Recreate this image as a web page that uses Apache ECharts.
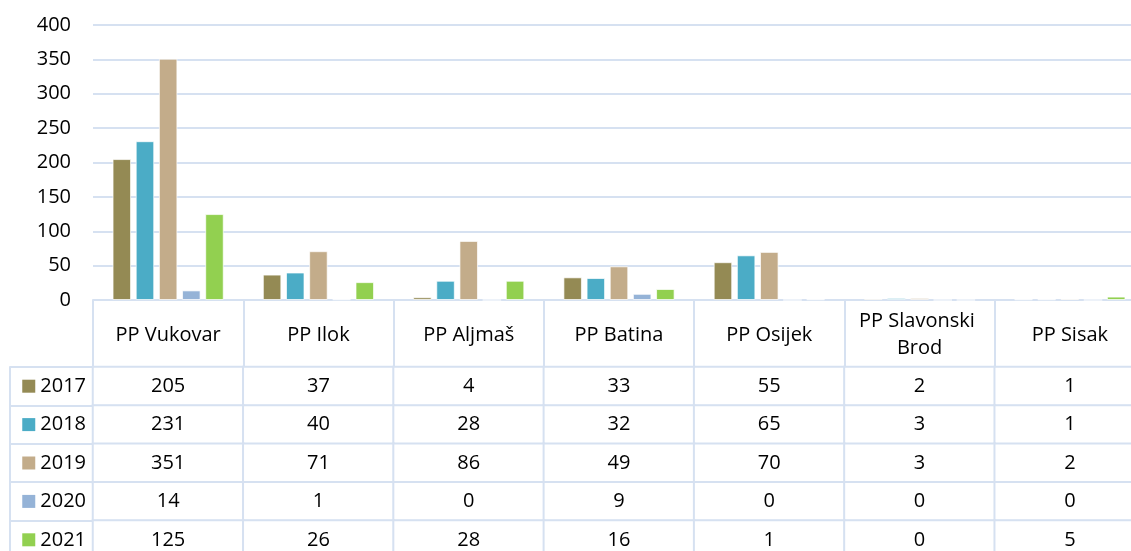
<!DOCTYPE html>
<html>
<head>
<meta charset="utf-8">
<script src="https://cdn.jsdelivr.net/npm/echarts@6/dist/echarts.min.js"></script>
<style>
  html, body { margin: 0; padding: 0; background: #fff; }
  #chart { width: 1131px; height: 551px; }
</style>
</head>
<body>
<div id="chart"></div>
<script>
// ---- data ----
const categories = ['PP Vukovar', 'PP Ilok', 'PP Aljmaš', 'PP Batina', 'PP Osijek', 'PP Slavonski Brod', 'PP Sisak'];
const years = ['2017', '2018', '2019', '2020', '2021'];
const v2017 = [205, 37, 4, 33, 55, 2, 1];
const v2018 = [231, 40, 28, 32, 65, 3, 1];
const v2019 = [351, 71, 86, 49, 70, 3, 2];
const v2020 = [14, 1, 0, 9, 0, 0, 0];
const v2021 = [125, 26, 28, 16, 1, 0, 5];
const yMin = 0, yMax = 400, yStep = 50;

// ---- styles ----
const colors = ['#948A54', '#4BACC6', '#C3AC8A', '#95B3D7', '#92D050'];
const lineCol = '#D6E1F1';
const font = 'Open Sans';
const fs = 20;

const seriesValues = [v2017, v2018, v2019, v2020, v2021];

// table cells: [column, row, value]
const tableCells = [];
seriesValues.forEach((vals, r) => {
    vals.forEach((v, c) => tableCells.push([c, r, v]));
});

const legendRich = { t: { fontFamily: font, fontSize: fs, color: '#000', padding: [0, 0, 0, 5] } };
colors.forEach((c, i) => {
    legendRich['sq' + i] = { width: 13, height: 13, backgroundColor: c };
});

const chart = echarts.init(document.getElementById('chart'), null, { renderer: 'canvas' });

chart.setOption({
    animation: false,
    textStyle: { fontFamily: font },
    grid: [
        { left: 93, top: 25, width: 1052, height: 275, outerBoundsMode: 'none', containLabel: false },
        { left: 93, top: 367, width: 1052, height: 192, outerBoundsMode: 'none', containLabel: false }
    ],
    xAxis: [
        {
            type: 'category', gridIndex: 0, data: categories,
            axisLine: { show: true, lineStyle: { color: lineCol, width: 2 } },
            axisTick: { show: true, interval: 0, alignWithLabel: false, length: 67, lineStyle: { color: lineCol, width: 2 } },
            axisLabel: {
                interval: 0, margin: 35, verticalAlign: 'middle', width: 140, overflow: 'break',
                fontFamily: font, fontSize: fs, color: '#000', lineHeight: 27
            }
        },
        {
            type: 'category', gridIndex: 1, data: categories,
            axisLine: { show: false }, axisTick: { show: false }, axisLabel: { show: false }
        }
    ],
    yAxis: [
        {
            type: 'value', gridIndex: 0, min: yMin, max: yMax, interval: yStep,
            axisLine: { show: false }, axisTick: { show: false },
            axisLabel: { margin: 22, fontFamily: font, fontSize: fs, color: '#000' },
            splitLine: { lineStyle: { color: lineCol, width: 2 } }
        },
        {
            type: 'category', gridIndex: 1, data: years, inverse: true,
            axisLine: { show: true, lineStyle: { color: lineCol, width: 2 } },
            axisTick: { show: true, interval: 0, alignWithLabel: false, length: 83, lineStyle: { color: lineCol, width: 2 } },
            axisLabel: {
                margin: 7, interval: 0,
                formatter: (val, idx) => `{sq${idx}|}{t|${val}}`,
                rich: legendRich
            }
        },
        {
            type: 'category', gridIndex: 1, data: years, inverse: true, position: 'left', offset: 83,
            axisLine: { show: true, lineStyle: { color: lineCol, width: 2 } },
            axisTick: { show: false }, axisLabel: { show: false }
        }
    ],
    series: [
        ...years.map((y, i) => ({
            name: y,
            type: 'bar',
            xAxisIndex: 0, yAxisIndex: 0,
            data: seriesValues[i],
            barCategoryGap: '26%',
            barGap: '25%',
            itemStyle: { color: colors[i], borderColor: 'rgba(255,255,255,0.7)', borderWidth: 1 },
            emphasis: { disabled: true }
        })),
        {
            type: 'heatmap',
            xAxisIndex: 1, yAxisIndex: 1,
            data: tableCells,
            itemStyle: { color: '#fff', borderColor: lineCol, borderWidth: 2 },
            label: {
                show: true, fontFamily: font, fontSize: fs, color: '#000',
                formatter: p => String(p.value[2])
            },
            emphasis: { disabled: true }
        }
    ]
});
</script>
</body>
</html>
